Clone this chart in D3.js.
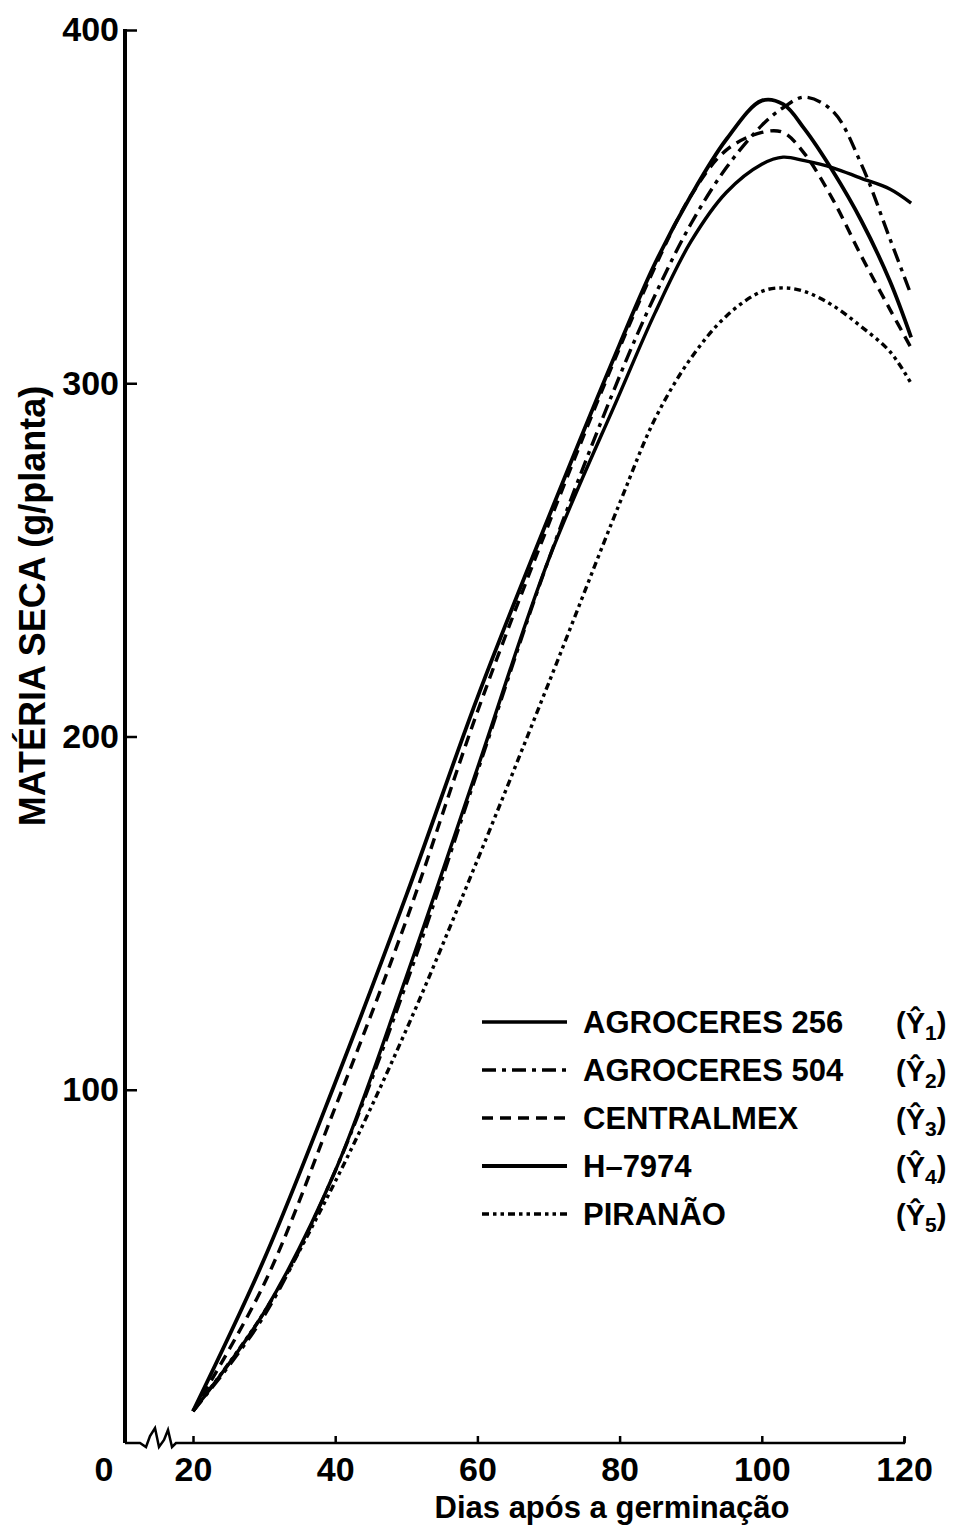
<!DOCTYPE html>
<html>
<head>
<meta charset="utf-8">
<script src="https://cdn.jsdelivr.net/npm/d3@7"></script>
<style>
  body { margin: 0; background: #fff; }
  text { font-family: "Liberation Sans", Arial, sans-serif; font-weight: bold; fill: #000; }
</style>
</head>
<body>
<svg id="chart" width="963" height="1528"></svg>
<script>
// days after germination, shared by all five fitted curves
const days = [20, 30, 40, 50, 60, 70, 80, 85, 90, 95, 100, 103, 106, 110, 114, 118, 121];
const agroceres256 = [9, 37, 77, 132, 191, 250, 297, 320, 340, 354, 362, 364, 363, 361, 358, 355, 351];
const agroceres504 = [9, 36, 77, 130, 190, 250, 302, 325, 345, 361, 373, 378, 381, 377, 362, 341, 325];
const centralmex = [9, 45, 95, 148, 207, 260, 310, 333, 353, 366, 371, 371, 365, 352, 336, 321, 310];
const h7974 = [9, 52, 102, 155, 211, 262, 311, 334, 353, 369, 380, 379, 372, 360, 346, 329, 313];
const piranao = [9, 37, 74, 117, 165, 215, 266, 290, 307, 319, 326, 327, 326, 322, 316, 309, 300];

const seriesNames = ['AGROCERES 256', 'AGROCERES 504', 'CENTRALMEX', 'H\u20137974', 'PIRAN\u00C3O'];
const seriesIndex = ['1', '2', '3', '4', '5'];
const xTicks = [20, 40, 60, 80, 100, 120];
const yTicks = [100, 200, 300, 400];

const svg = d3.select('#chart');
const axisX0 = 125; // y axis position (broken x axis starts here)
const x = d3.scaleLinear().domain([20, 120]).range([193, 904]);
const y = d3.scaleLinear().domain([0, 400]).range([1443, 30]);

const styles = [
  { dash: null, width: 3.4 },
  { dash: '14,6,4,6', width: 3.4 },
  { dash: '11,7', width: 3.4 },
  { dash: null, width: 3.8 },
  { dash: '7,4,3.5,4,3.5,4', width: 3.4 }
];
const allValues = [agroceres256, agroceres504, centralmex, h7974, piranao];
const series = allValues.map((vals, i) => ({
  name: seriesNames[i],
  idx: seriesIndex[i],
  style: styles[i],
  points: days.map((d, j) => [d, vals[j]])
}));

// y axis
const yAxis = svg.append('g')
  .attr('transform', `translate(${axisX0},0)`)
  .call(d3.axisLeft(y).tickValues(yTicks).tickSizeInner(-12).tickSizeOuter(0).tickPadding(6));
yAxis.select('.domain').remove();
yAxis.selectAll('line').attr('stroke', '#000').attr('stroke-width', 2.5);
yAxis.selectAll('text').attr('font-size', 34).attr('font-family', null);
svg.append('line')
  .attr('x1', axisX0).attr('x2', axisX0)
  .attr('y1', y(0)).attr('y2', y(400) - 1)
  .attr('stroke', '#000').attr('stroke-width', 4);

// x axis
const xAxis = svg.append('g')
  .attr('transform', `translate(0,${y(0)})`)
  .call(d3.axisBottom(x).tickValues(xTicks).tickSizeInner(-7).tickSizeOuter(0).tickPadding(14));
xAxis.select('.domain').remove();
xAxis.selectAll('line').attr('stroke', '#000').attr('stroke-width', 2.5);
xAxis.selectAll('text').attr('font-size', 34).attr('font-family', null);

// axis line with the scale break near the origin
const y0 = y(0);
const brk = [[0, 0], [15, 0], [21, 4], [25, -7], [30, -15], [34, 4], [39, -3], [43, -13], [47, 4], [51, 0]];
const axisPts = brk.map(p => [axisX0 + p[0], y0 + p[1]]).concat([[x(120), y0], [x(120) + 1, y0 - 6]]);
svg.append('path')
  .attr('d', d3.line()(axisPts))
  .attr('fill', 'none').attr('stroke', '#000').attr('stroke-width', 2.5);

svg.append('text')
  .attr('x', 104).attr('y', y0 + 14).attr('dy', '0.71em')
  .attr('text-anchor', 'middle').attr('font-size', 34).text('0');

// axis titles
svg.append('text')
  .attr('x', 612).attr('y', 1518)
  .attr('text-anchor', 'middle').attr('font-size', 31)
  .text('Dias após a germinação');
svg.append('text')
  .attr('transform', 'translate(45,606) rotate(-90)')
  .attr('text-anchor', 'middle').attr('font-size', 36)
  .text('MATÉRIA SECA (g/planta)');

// curves
const line = d3.line()
  .x(d => x(d[0]))
  .y(d => y(d[1]))
  .curve(d3.curveCatmullRom.alpha(0.5));
svg.append('g')
  .selectAll('path')
  .data(series)
  .enter()
  .append('path')
  .attr('d', d => line(d.points))
  .attr('fill', 'none')
  .attr('stroke', '#000')
  .attr('stroke-width', d => d.style.width)
  .attr('stroke-dasharray', d => d.style.dash);

// legend
const legend = svg.append('g')
  .selectAll('g')
  .data(series)
  .enter()
  .append('g')
  .attr('transform', (d, i) => `translate(0,${1022 + i * 48})`);
legend.append('line')
  .attr('x1', 482).attr('x2', 567)
  .attr('stroke', '#000')
  .attr('stroke-width', d => d.style.width)
  .attr('stroke-dasharray', d => d.style.dash);
legend.append('text')
  .attr('x', 583).attr('y', 11)
  .attr('font-size', 31)
  .text(d => d.name);
const yl = legend.append('text')
  .attr('x', 896).attr('y', 11)
  .attr('font-size', 29);
yl.append('tspan').text('(\u0176');
yl.append('tspan').attr('font-size', 21).attr('dy', 7).text(d => d.idx);
yl.append('tspan').attr('dy', -7).text(')');
</script>
</body>
</html>
